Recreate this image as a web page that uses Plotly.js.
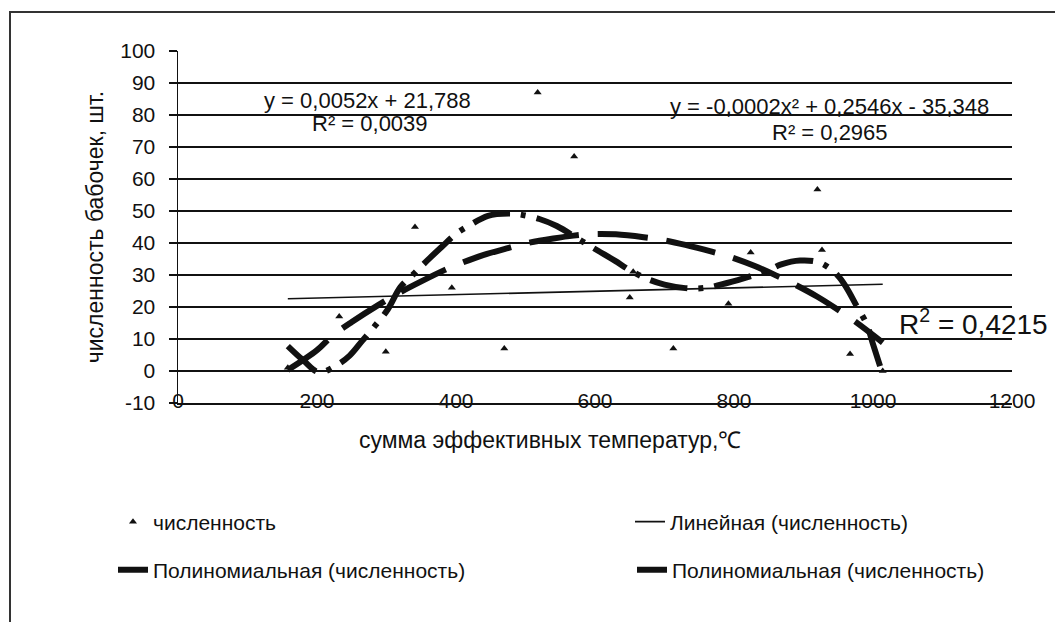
<!DOCTYPE html>
<html>
<head>
<meta charset="utf-8">
<script src="https://cdn.plot.ly/plotly-3.0.1.min.js"></script>
<style>html,body{margin:0;padding:0;background:#fff;}#chart{width:1055px;height:622px;}</style>
</head>
<body>
<div id="chart"></div>
<script>
// observed data points (сумма эффективных температур, численность)
const tempSum = [158, 232, 299, 341, 394, 469.5, 517.5, 570, 650, 655, 712.7, 792, 824, 920, 926.6, 967, 1014];
const butterflies = [1, 17, 6, 45, 26, 7, 87, 67, 23, 31, 7, 21, 37, 56.7, 37.8, 5.3, 0];

// linear trend line end points
const linX = [158, 1014];
const linY = [22.6, 27.1];

// quadratic trend line
const quadX = [158, 200, 221, 250, 288, 319, 350, 384, 406, 440, 473, 499, 540, 569, 598, 630, 670, 698, 730, 768, 794, 830, 861, 885, 920, 952, 976, 1014];
const quadY = [0.3, 6.5, 10.8, 15.3, 20.6, 24.5, 28, 31.6, 33.6, 36.3, 38.3, 39.8, 41.4, 42.3, 42.8, 42.7, 41.8, 40.9, 39.4, 37.3, 35.7, 32.8, 29.8, 27.3, 23.2, 18.8, 15.2, 8.9];

// higher-order polynomial trend line
const polyX = [158, 180, 203, 229, 247, 265, 283, 302, 320, 340, 358, 380, 399, 420, 446, 476, 492, 520, 545, 581, 605, 629, 650, 676, 700, 730, 760, 790, 828, 850, 868, 895, 924, 949, 962, 976, 991, 1000, 1012];
const polyY = [7.8, 3.4, -0.4, 1.9, 4.8, 9.4, 14, 19.3, 26.2, 30.5, 34.4, 38.9, 42.7, 45.6, 48.5, 49.2, 48.9, 47.5, 45.3, 40.6, 37.5, 34.4, 31.5, 28.7, 27, 25.9, 26, 27.5, 29.9, 31.5, 33.3, 34.5, 33.8, 29.9, 26, 20.5, 14.6, 8.4, 0.3];

const xTicks = [0, 200, 400, 600, 800, 1000, 1200];
const yTicks = [-10, 0, 10, 20, 30, 40, 50, 60, 70, 80, 90, 100];

const FONT = 'Liberation Sans, Arial, sans-serif';
const INK = '#111';

const traces = [
  {x: tempSum, y: butterflies, type: 'scatter', mode: 'markers', name: 'численность',
   marker: {symbol: 'triangle-up', size: 7, color: INK}, legend: 'legend', cliponaxis: false},
  {x: linX, y: linY, type: 'scatter', mode: 'lines', name: 'Линейная (численность)',
   line: {color: INK, width: 1.6}, legend: 'legend2'},
  {x: quadX, y: quadY, type: 'scatter', mode: 'lines', name: 'Полиномиальная (численность)',
   line: {color: INK, width: 6, dash: '50px,19px', shape: 'spline'}, legend: 'legend3'},
  {x: polyX, y: polyY, type: 'scatter', mode: 'lines', name: 'Полиномиальная (численность)',
   line: {color: INK, width: 6, dash: '38px,11px,5px,11px', shape: 'spline'}, legend: 'legend4'}
];

function legendAt(x, y) {
  return {orientation: 'h', x: x, y: y, xanchor: 'left', yanchor: 'middle',
          font: {family: FONT, size: 21, color: INK}, bgcolor: 'rgba(0,0,0,0)'};
}

const layout = {
  width: 1055, height: 622,
  margin: {l: 178, r: 43, t: 51, b: 219},
  paper_bgcolor: '#fff', plot_bgcolor: '#fff',
  font: {family: FONT, color: INK},
  showlegend: true,
  xaxis: {
    range: [0, 1200], tickvals: xTicks, ticktext: xTicks.map(String),
    showgrid: false, zeroline: false, showline: true, linecolor: INK, linewidth: 1.5,
    ticks: '', ticklabelstandoff: -22,
    tickfont: {family: FONT, size: 21, color: INK}
  },
  xaxis2: {
    range: [0, 1200], overlaying: 'x', anchor: 'free', position: 10 / 110, side: 'bottom',
    tickvals: xTicks, showticklabels: false, ticks: 'outside', ticklen: 5, tickwidth: 1.5,
    tickcolor: INK, showgrid: false, zeroline: false, showline: false
  },
  yaxis: {
    range: [-10, 100], tickvals: yTicks, ticktext: yTicks.map(String),
    showgrid: true, gridcolor: INK, gridwidth: 1.4,
    zeroline: true, zerolinecolor: INK, zerolinewidth: 1.4,
    showline: true, linecolor: INK, linewidth: 1.5,
    ticks: 'outside', ticklen: 8, tickwidth: 1.4, tickcolor: INK, ticklabelstandoff: 9,
    tickfont: {family: FONT, size: 21, color: INK},
    title: {text: 'численность бабочек, шт.', standoff: 10, font: {family: FONT, size: 23, color: INK}}
  },
  legend: legendAt((113 - 178) / 834, (403 - 522) / 352),
  legend2: legendAt((630 - 178) / 834, (403 - 522) / 352),
  legend3: legendAt((113 - 178) / 834, (403 - 570) / 352),
  legend4: legendAt((632 - 178) / 834, (403 - 570) / 352),
  annotations: [
    {xref: 'paper', yref: 'paper', x: (550 - 178) / 834, y: (403 - 440) / 352, xanchor: 'center', yanchor: 'middle',
     text: 'сумма эффективных температур,℃', showarrow: false, font: {family: FONT, size: 23, color: INK}},
    {xref: 'x', yref: 'y', x: 272, y: 84.4, text: 'y = 0,0052x + 21,788', showarrow: false,
     font: {family: FONT, size: 22, color: INK}},
    {xref: 'x', yref: 'y', x: 276, y: 77.2, text: 'R² = 0,0039', showarrow: false,
     font: {family: FONT, size: 22, color: INK}},
    {xref: 'x', yref: 'y', x: 938, y: 82.8, text: 'y = -0,0002x² + 0,2546x - 35,348', showarrow: false,
     font: {family: FONT, size: 22, color: INK}},
    {xref: 'x', yref: 'y', x: 938, y: 74.4, text: 'R² = 0,2965', showarrow: false,
     font: {family: FONT, size: 22, color: INK}},
    {xref: 'x', yref: 'y', x: 1145, y: 15.3, text: 'R<sup>2</sup> = 0,4215', showarrow: false,
     font: {family: FONT, size: 28, color: INK}}
  ],
  shapes: [
    {type: 'rect', xref: 'paper', yref: 'paper', x0: (10 - 178) / 834, x1: 2, y0: -2, y1: (403 - 12) / 352,
     line: {color: '#333', width: 2}, fillcolor: 'rgba(0,0,0,0)', layer: 'below'}
  ]
};

Plotly.newPlot('chart', traces, layout, {staticPlot: true, displayModeBar: false});
</script>
</body>
</html>
